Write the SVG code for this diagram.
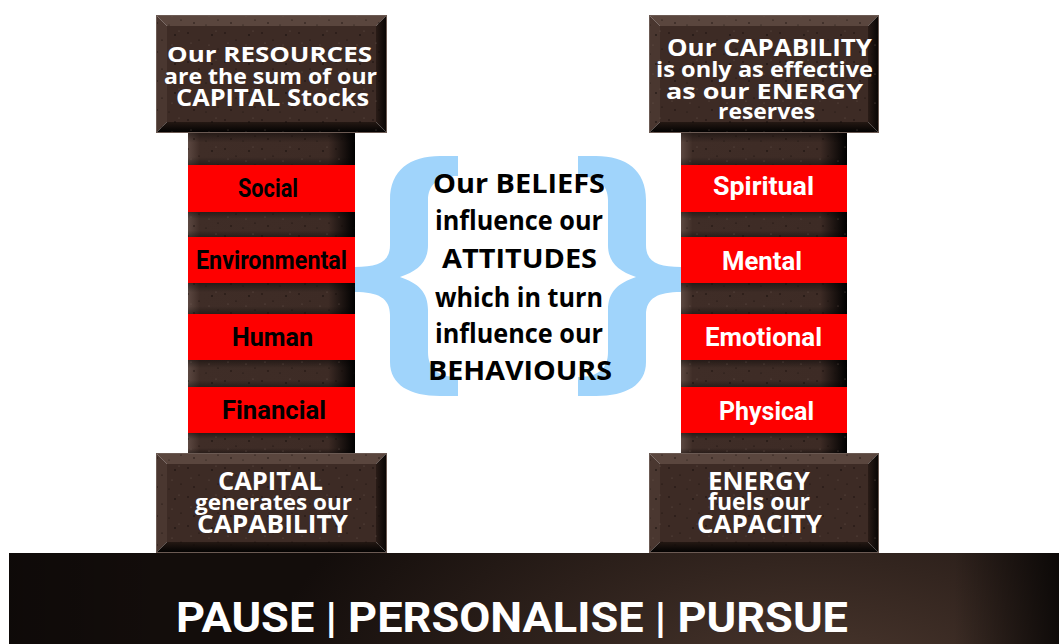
<svg xmlns="http://www.w3.org/2000/svg" width="1059" height="644" viewBox="0 0 1059 644">
<style>
.face{fill:#3d2b25}
.bt{fill:#5a463e}
.bl{fill:#4a3730}
.br{fill:url(#gR)}
.bb{fill:url(#gB)}
.edge{fill:none;stroke:#6b5a53;stroke-width:1}
.spk{fill:url(#spk)}
.seg{fill:url(#gShaft)}
.segv{fill:url(#gSegV)}
.band{fill:#fe0000}
.capt{font-family:"Open Sans","Liberation Sans",sans-serif;font-weight:700;fill:#ffffff}
.lbl{font-family:Roboto,"Liberation Sans",sans-serif;font-weight:700;font-size:25px}
.blk{fill:#000000}
.wht{fill:#ffffff}
.mid{font-family:"Open Sans","Liberation Sans",sans-serif;font-weight:700;font-size:26px;fill:#000000}
.brace{fill:#a0d4fb}
.foot{font-family:Roboto,"Liberation Sans",sans-serif;font-weight:700;font-size:42px;fill:#ffffff}
</style>
<defs>
<linearGradient id="gR" x1="0" y1="0" x2="1" y2="0">
<stop offset="0" stop-color="#2a1c17"/><stop offset="1" stop-color="#050302"/>
</linearGradient>
<linearGradient id="gB" x1="0" y1="0" x2="0" y2="1">
<stop offset="0" stop-color="#241813"/><stop offset="1" stop-color="#000000"/>
</linearGradient>
<linearGradient id="gShaft" x1="0" y1="0" x2="1" y2="0">
<stop offset="0" stop-color="#5c4841"/><stop offset="0.07" stop-color="#3f2d27"/><stop offset="0.84" stop-color="#3d2b25"/><stop offset="1" stop-color="#000000"/>
</linearGradient>
<linearGradient id="gSegV" x1="0" y1="0" x2="0" y2="1">
<stop offset="0" stop-color="#000" stop-opacity="0.4"/><stop offset="0.3" stop-color="#000" stop-opacity="0"/><stop offset="0.75" stop-color="#000" stop-opacity="0"/><stop offset="1" stop-color="#000" stop-opacity="0.35"/>
</linearGradient>
<radialGradient id="gBand" gradientUnits="userSpaceOnUse" cx="820" cy="700" r="560" gradientTransform="translate(820 700) scale(1 0.55) translate(-820 -700)">
<stop offset="0" stop-color="#4e3a30"/><stop offset="0.45" stop-color="#33251f"/><stop offset="1" stop-color="#130d0b"/>
</radialGradient>
<linearGradient id="gBandR" x1="0" y1="0" x2="1" y2="0">
<stop offset="0" stop-color="#000" stop-opacity="0.25"/><stop offset="0.15" stop-color="#000" stop-opacity="0"/><stop offset="0.9" stop-color="#000" stop-opacity="0"/><stop offset="1" stop-color="#000" stop-opacity="0.7"/>
</linearGradient>
<pattern id="spk" width="37" height="29" patternUnits="userSpaceOnUse">
<circle cx="3" cy="4" r="0.7" fill="#120a07"/>
<circle cx="14" cy="11" r="0.6" fill="#120a07"/>
<circle cx="27" cy="6" r="0.8" fill="#120a07"/>
<circle cx="33" cy="20" r="0.6" fill="#120a07"/>
<circle cx="9" cy="23" r="0.7" fill="#120a07"/>
<circle cx="21" cy="25" r="0.5" fill="#120a07"/>
<circle cx="6" cy="14" r="0.5" fill="#6a5850"/>
<circle cx="24" cy="16" r="0.5" fill="#6a5850"/>
<circle cx="31" cy="2" r="0.5" fill="#6a5850"/>
</pattern>
</defs>

<rect x="0" y="0" width="1059" height="644" fill="#ffffff"/>

<g id="footer-band">
<rect x="9" y="553" width="1050" height="91" fill="url(#gBand)"/>
<rect x="9" y="553" width="1050" height="91" fill="url(#gBandR)"/>
<text class="foot" x="176" y="632" textLength="672" lengthAdjust="spacingAndGlyphs">PAUSE | PERSONALISE | PURSUE</text>
</g>

<g id="left-shaft">
<rect class="seg" x="188" y="133" width="167" height="320"/>
<rect class="segv" x="188" y="133" width="167" height="32"/>
<rect class="segv" x="188" y="211" width="167" height="26"/>
<rect class="segv" x="188" y="283" width="167" height="31"/>
<rect class="segv" x="188" y="360" width="167" height="27"/>
<rect class="segv" x="188" y="433" width="167" height="20"/>
<rect class="spk" x="188" y="133" width="167" height="320"/>
</g>
<g id="right-shaft">
<rect class="seg" x="681" y="133" width="166" height="320"/>
<rect class="segv" x="681" y="133" width="166" height="32"/>
<rect class="segv" x="681" y="211" width="166" height="26"/>
<rect class="segv" x="681" y="283" width="166" height="31"/>
<rect class="segv" x="681" y="360" width="166" height="27"/>
<rect class="segv" x="681" y="433" width="166" height="20"/>
<rect class="spk" x="681" y="133" width="166" height="320"/>
</g>

<g id="social">
<rect class="band" x="188" y="165" width="167" height="47"/>
<text class="lbl blk" x="238" y="197" textLength="60" lengthAdjust="spacingAndGlyphs">Social</text>
</g>
<g id="environmental">
<rect class="band" x="188" y="237" width="167" height="46"/>
<text class="lbl blk" x="196" y="269" textLength="151" lengthAdjust="spacingAndGlyphs">Environmental</text>
</g>
<g id="human">
<rect class="band" x="188" y="314" width="167" height="46"/>
<text class="lbl blk" x="232" y="346" textLength="81" lengthAdjust="spacingAndGlyphs">Human</text>
</g>
<g id="financial">
<rect class="band" x="188" y="387" width="167" height="46"/>
<text class="lbl blk" x="222" y="419" textLength="104" lengthAdjust="spacingAndGlyphs">Financial</text>
</g>

<g id="spiritual">
<rect class="band" x="681" y="165" width="166" height="47"/>
<text class="lbl wht" x="713" y="195" textLength="101" lengthAdjust="spacingAndGlyphs">Spiritual</text>
</g>
<g id="mental">
<rect class="band" x="681" y="237" width="166" height="46"/>
<text class="lbl wht" x="722" y="270" textLength="80" lengthAdjust="spacingAndGlyphs">Mental</text>
</g>
<g id="emotional">
<rect class="band" x="681" y="314" width="166" height="46"/>
<text class="lbl wht" x="705" y="346" textLength="117" lengthAdjust="spacingAndGlyphs">Emotional</text>
</g>
<g id="physical">
<rect class="band" x="681" y="387" width="166" height="46"/>
<text class="lbl wht" x="719" y="420" textLength="95" lengthAdjust="spacingAndGlyphs">Physical</text>
</g>

<g id="cap-resources">
<polygon class="bt" points="156,15 387,15 376,26 167,26"/>
<polygon class="bl" points="156,15 167,26 167,122 156,133"/>
<polygon class="br" points="387,15 387,133 376,122 376,26"/>
<polygon class="bb" points="156,133 387,133 376,122 167,122"/>
<rect class="face" x="167" y="26" width="209" height="96"/>
<rect class="spk" x="156" y="15" width="231" height="118"/>
<rect class="edge" x="156.5" y="15.5" width="230" height="117"/>
<text class="capt" font-size="22" x="167" y="62" textLength="205" lengthAdjust="spacingAndGlyphs">Our RESOURCES</text>
<text class="capt" font-size="21" x="164" y="84" textLength="213" lengthAdjust="spacingAndGlyphs">are the sum of our</text>
<text class="capt" font-size="23" x="176" y="106" textLength="193" lengthAdjust="spacingAndGlyphs">CAPITAL Stocks</text>
</g>

<g id="cap-capability">
<polygon class="bt" points="649,15 879,15 868,26 660,26"/>
<polygon class="bl" points="649,15 660,26 660,122 649,133"/>
<polygon class="br" points="879,15 879,133 868,122 868,26"/>
<polygon class="bb" points="649,133 879,133 868,122 660,122"/>
<rect class="face" x="660" y="26" width="208" height="96"/>
<rect class="spk" x="649" y="15" width="230" height="118"/>
<rect class="edge" x="649.5" y="15.5" width="229" height="117"/>
<text class="capt" font-size="23" x="667" y="56" textLength="205" lengthAdjust="spacingAndGlyphs">Our CAPABILITY</text>
<text class="capt" font-size="21" x="656" y="77" textLength="217" lengthAdjust="spacingAndGlyphs">is only as effective</text>
<text class="capt" font-size="22" x="666" y="99" textLength="197" lengthAdjust="spacingAndGlyphs">as our ENERGY</text>
<text class="capt" font-size="21" x="718" y="119" textLength="97" lengthAdjust="spacingAndGlyphs">reserves</text>
</g>

<g id="cap-capital">
<polygon class="bt" points="156,453 387,453 376,464 167,464"/>
<polygon class="bl" points="156,453 167,464 167,542 156,553"/>
<polygon class="br" points="387,453 387,553 376,542 376,464"/>
<polygon class="bb" points="156,553 387,553 376,542 167,542"/>
<rect class="face" x="167" y="464" width="209" height="78"/>
<rect class="spk" x="156" y="453" width="231" height="100"/>
<rect class="edge" x="156.5" y="453.5" width="230" height="99"/>
<text class="capt" font-size="25" x="218" y="490" textLength="105" lengthAdjust="spacingAndGlyphs">CAPITAL</text>
<text class="capt" font-size="22" x="195" y="510" textLength="157" lengthAdjust="spacingAndGlyphs">generates our</text>
<text class="capt" font-size="25" x="197" y="533" textLength="151" lengthAdjust="spacingAndGlyphs">CAPABILITY</text>
</g>

<g id="cap-energy">
<polygon class="bt" points="649,453 879,453 868,464 660,464"/>
<polygon class="bl" points="649,453 660,464 660,542 649,553"/>
<polygon class="br" points="879,453 879,553 868,542 868,464"/>
<polygon class="bb" points="649,553 879,553 868,542 660,542"/>
<rect class="face" x="660" y="464" width="208" height="78"/>
<rect class="spk" x="649" y="453" width="230" height="100"/>
<rect class="edge" x="649.5" y="453.5" width="229" height="99"/>
<text class="capt" font-size="25" x="708" y="490" textLength="102" lengthAdjust="spacingAndGlyphs">ENERGY</text>
<text class="capt" font-size="23" x="708" y="510" textLength="102" lengthAdjust="spacingAndGlyphs">fuels our</text>
<text class="capt" font-size="25" x="697" y="533" textLength="125" lengthAdjust="spacingAndGlyphs">CAPACITY</text>
</g>

<g id="connectors">
<path id="brace-left" class="brace" d="M458 156 L440 156 C410 156 390 170 390 200 L390 245 C390 262 378 267 355 267 L355 292 C378 292 390 298 390 315 L390 362 C390 385 410 396 440 396 L458 396 L458 377 C438 377 428 369 428 352 L428 310 C428 292 418 283 400 277 C418 271 428 262 428 245 L428 200 C428 185 438 176 458 176 Z"/>
<path id="brace-right" class="brace" transform="matrix(-1 0 0 1 1036 0)" d="M458 156 L440 156 C410 156 390 170 390 200 L390 245 C390 262 378 267 355 267 L355 292 C378 292 390 298 390 315 L390 362 C390 385 410 396 440 396 L458 396 L458 377 C438 377 428 369 428 352 L428 310 C428 292 418 283 400 277 C418 271 428 262 428 245 L428 200 C428 185 438 176 458 176 Z"/>
</g>

<g id="beliefs">
<text class="mid" x="433" y="193" textLength="172" lengthAdjust="spacingAndGlyphs">Our BELIEFS</text>
<text class="mid" x="435" y="230" textLength="168" lengthAdjust="spacingAndGlyphs">influence our</text>
<text class="mid" x="442" y="268" textLength="155" lengthAdjust="spacingAndGlyphs">ATTITUDES</text>
<text class="mid" x="435" y="307" textLength="168" lengthAdjust="spacingAndGlyphs">which in turn</text>
<text class="mid" x="435" y="343" textLength="168" lengthAdjust="spacingAndGlyphs">influence our</text>
<text class="mid" x="428" y="380" textLength="184" lengthAdjust="spacingAndGlyphs">BEHAVIOURS</text>
</g>
</svg>
